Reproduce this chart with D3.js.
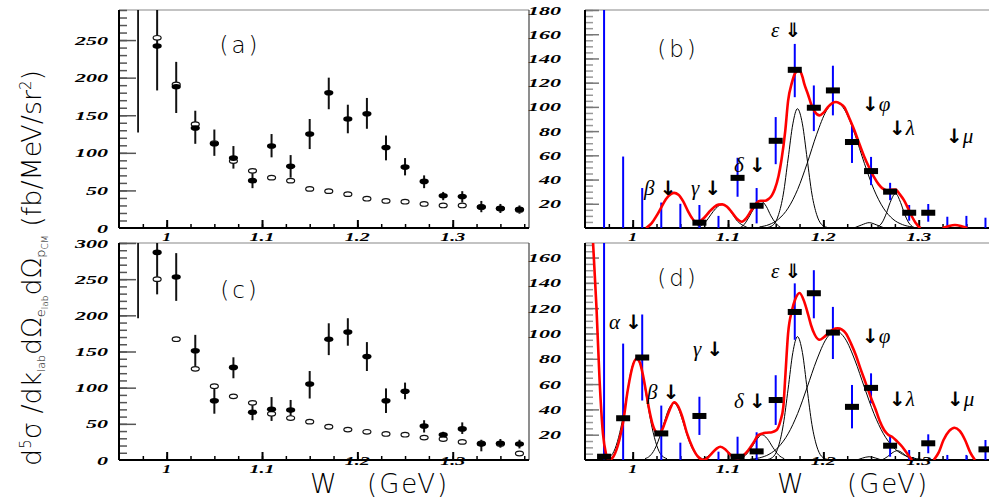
<!DOCTYPE html>
<html>
<head>
<meta charset="utf-8">
<script src="https://cdn.jsdelivr.net/npm/d3@7"></script>
<style>
  body { margin: 0; background: #fff; }
  .lbl { font-family: "Liberation Serif", serif; font-weight: bold; font-style: italic; fill: #000; }
  .big { font-family: "DejaVu Sans", sans-serif; font-weight: 200; fill: #000; }
  .greek { font-family: "Liberation Serif", serif; font-style: italic; font-size: 21px; }
</style>
</head>
<body>
<script>
// ---- data ----
// W bins (GeV)
var wBins = [0.99, 1.01, 1.03, 1.05, 1.07, 1.09, 1.11, 1.13, 1.15, 1.17, 1.19, 1.21, 1.23, 1.25, 1.27, 1.29, 1.31, 1.33, 1.35, 1.37];

// panel (a): filled = data, open = other set
var aVal  = [242, 188, 133, 112, 93, 63, 109, 82, 125, 180, 145, 152, 107, 81, 62, 43, 42, 28, 26, 25];
var aLo   = [183, 153, 112, 96, 79, 53, 94, 67, 105, 158, 126, 132, 90, 70, 53, 37, 34, 21, 20, 19];
var aHi   = [320, 221, 156, 131, 109, 74, 125, 97, 145, 200, 164, 173, 123, 93, 70, 48, 49, 36, 32, 30];
var aOpen = [253, 191, 138, 113, 89, 76, 67, 63, 52, 49, 45, 39, 36, 35, 32, 30, 30, 28, 26, 24];
var aOffW = 0.97, aOffLo = 127, aOffHi = 400;

// panel (c)
var cVal  = [287, 253, 151, 82, 128, 66, 70, 69, 105, 167, 177, 143, 82, 95, 47, 35, 43, 22, 23, 22];
var cLo   = [229, 220, 130, 64, 113, 55, 54, 55, 85, 145, 158, 123, 65, 84, 38, 28, 36, 12, 17, 16];
var cHi   = [320, 286, 173, 101, 142, 76, 87, 83, 123, 189, 196, 163, 99, 107, 55, 39, 52, 28, 29, 28];
var cOpen = [250, 167, 126, 102, 88, 79, 64, 58, 53, 46, 42, 39, 36, 35, 31, 29, 25, 23, 22, 9];
var cOffW = 0.97, cOffLo = 196, cOffHi = 400;

// panels (b), (d): W bins start one bin lower
var wFit = [0.97, 0.99, 1.01, 1.03, 1.05, 1.07, 1.09, 1.11, 1.13, 1.15, 1.17, 1.19, 1.21, 1.23, 1.25, 1.27, 1.29, 1.31, 1.33, 1.35, 1.37];

var bVal = [null, null, null, null, null, 4.4, null, 41.4, 18.4, 72, 130.6, 99.3, 113.6, 71, 47, 30, 12.6, 12.6, null, null, null];
var bLo  = [-50, -10, -10, -10, -10, -10, -10, 25.8, 3.8, 52.7, 108, 80, 93, 53.7, 35.4, 23, 6, 5.2, -10, -10, -10];
var bHi  = [300, 59, 33, 21, 20, 19, 10, 58, 33, 91.6, 152, 117.7, 134, 86, 58.7, 37.3, 19, 19.8, 9.3, 10, 8.5];

var dVal = [2.6, 33, 81, 21, null, 34.8, null, 2.6, 6.8, 47.4, 117, 131.8, 100.7, 42, 57, 11.3, null, 13.2, null, null, 8.4];
var dLo  = [-50, -10, 47, -10, -10, 19.8, -10, -10, -10, 27.7, 95, 112, 79.8, 25, 44.8, 2.6, -10, 5.3, -10, -10, -10];
var dHi  = [300, 92, 115, 43, 13.7, 50, 6.6, 18.4, 21.9, 67, 139.6, 150, 121, 59.3, 68.5, 19, 7.9, 20.3, 4, 4, 15.8];

// total fit (red), [W, value]; null breaks the line
var bTotal = [[1.014,0],[1.02,4],[1.025,10],[1.03,17],[1.035,24],[1.04,28],[1.0434,29],[1.048,27.5],[1.053,22],
  [1.058,14],[1.062,8.5],[1.066,5.2],[1.07,5.5],[1.075,8.5],[1.08,13],[1.085,17],[1.09,19.3],[1.094,19.5],
  [1.099,17.5],[1.104,13],[1.109,8],[1.1145,5.2],[1.119,8],[1.124,14],[1.129,20],[1.134,22.5],[1.139,22.5],
  [1.142,23.6],[1.146,27],[1.149,32],[1.153,43],[1.156,56],[1.16,80],[1.163,105],[1.167,120],[1.1705,128],
  [1.1745,130.6],[1.178,125],[1.18,119],[1.184,110],[1.187,102.6],[1.191,96],[1.196,93],[1.2005,95.5],
  [1.2047,99.8],[1.209,103],[1.2133,104],[1.218,102.5],[1.222,99.8],[1.227,91],[1.2325,80.7],[1.238,69],
  [1.243,58.7],[1.248,50],[1.253,42.2],[1.258,36],[1.262,32.7],[1.267,31],[1.271,31.5],[1.2757,31.8],
  [1.28,28],[1.2845,23],[1.289,16],[1.293,9.3],[1.297,4],[1.3,1],[1.302,0],[1.31,null],
  [1.325,0],[1.331,1.5],[1.338,2.5],[1.345,1.5],[1.351,0]];

var dTotal = [[0.957,190],[0.9585,171],[0.962,121],[0.9653,63],[0.9688,21],[0.972,5],[0.975,0],[0.98,3],
  [0.986,15.8],[0.99,30],[0.9948,55],[1.0007,76],[1.004,80],[1.0075,77],[1.0104,68.5],[1.014,54],[1.0174,39.5],
  [1.021,28],[1.0243,22.4],[1.0278,21],[1.031,24],[1.0348,31.6],[1.039,40],[1.0434,45.6],[1.048,42],[1.052,34.2],
  [1.057,21],[1.0624,10.5],[1.068,3],[1.0746,0],[1.079,2],[1.083,5.3],[1.088,9],[1.092,10.5],[1.097,8.5],
  [1.102,4.5],[1.106,2],[1.111,1.3],[1.116,3.5],[1.1214,7.9],[1.127,14],[1.132,19.8],[1.1405,21.6],[1.146,22],
  [1.151,23.7],[1.155,31],[1.158,42],[1.16,65],[1.163,100],[1.167,118],[1.1705,127],[1.175,132],[1.18,125],
  [1.184,115],[1.187,106.7],[1.191,99],[1.196,95],[1.2005,97],[1.205,100],[1.21,103],[1.215,104],[1.2195,103],
  [1.2237,100],[1.229,92],[1.234,83],[1.239,72],[1.2445,60.6],[1.25,49],[1.255,39.5],[1.259,31],[1.2637,23.7],
  [1.268,20],[1.272,18.4],[1.277,15],[1.2827,10.5],[1.288,5],[1.293,0],[1.3,null],
  [1.3157,0],[1.321,6],[1.326,15.8],[1.332,23],[1.3376,25.5],[1.343,23],[1.3486,15.8],[1.354,6],[1.359,0]];

// fit components (black)
var bComp = [
  [[1.015,0],[1.02,4],[1.025,10],[1.03,17],[1.035,24],[1.04,28],[1.0434,29],[1.048,27.5],[1.053,22],[1.058,14],[1.063,7],[1.068,2.5],[1.073,0]],
  [[1.066,0],[1.072,2],[1.077,5.5],[1.082,11],[1.087,16],[1.094,19.5],[1.1,16.5],[1.105,11],[1.11,5.5],[1.115,2.5],[1.12,0.5],[1.123,0]],
  [[1.112,0],[1.117,3],[1.122,9],[1.127,16],[1.134,22.5],[1.14,18],[1.145,10],[1.15,4],[1.156,0]],
  [[1.142,0.5],[1.148,3],[1.153,11],[1.158,28],[1.163,57],[1.168,86],[1.1728,98.5],[1.178,86],[1.183,57],[1.188,28],[1.193,11],[1.198,3],[1.204,0.5]],
  [[1.133,0.9],[1.143,2.8],[1.153,7.3],[1.163,16.4],[1.173,31.8],[1.183,53.4],[1.193,77.4],[1.203,96.6],[1.213,104],[1.223,96.6],[1.233,77.4],[1.243,53.4],[1.253,31.8],[1.263,16.4],[1.273,7.3],[1.283,2.8],[1.293,0.9]],
  [[1.232,0],[1.24,2.5],[1.248,4.4],[1.256,2.5],[1.264,0]],
  [[1.256,0.5],[1.262,5],[1.266,12],[1.27,21],[1.2757,28.5],[1.281,21],[1.285,12],[1.289,5],[1.295,0.5]]
];
var dComp = [
  [[0.972,1],[0.979,5],[0.984,14.5],[0.989,30.5],[0.994,52],[0.999,72.6],[1.004,80],[1.009,72.6],[1.014,52],[1.019,30.5],[1.024,14.5],[1.029,5],[1.036,1]],
  [[1.013,1.1],[1.018,3.2],[1.023,8.4],[1.028,17.5],[1.033,29.6],[1.038,40.5],[1.0434,45],[1.048,40.5],[1.053,29.6],[1.058,17.5],[1.063,8.4],[1.068,3.2],[1.073,1.1]],
  [[1.073,0.5],[1.078,2.5],[1.083,5.5],[1.087,8.5],[1.092,10.5],[1.097,8.5],[1.101,5.5],[1.106,2.5],[1.111,0.5]],
  [[1.112,0.5],[1.118,3.5],[1.124,9],[1.13,16],[1.1355,20],[1.141,17],[1.147,10],[1.153,4],[1.159,1]],
  [[1.142,0.5],[1.148,3],[1.153,11],[1.158,28],[1.163,56],[1.168,85],[1.1728,97.5],[1.178,85],[1.183,56],[1.188,28],[1.193,11],[1.198,3],[1.204,0.5]],
  [[1.123,0.6],[1.133,1.7],[1.143,4.5],[1.153,10.3],[1.163,20.7],[1.173,36.7],[1.183,57.5],[1.193,79],[1.203,95.7],[1.213,102],[1.223,95.7],[1.233,79],[1.243,57.5],[1.253,36.7],[1.263,20.7],[1.273,10.3],[1.283,4.5],[1.293,1.7],[1.303,0.6]],
  [[1.235,0],[1.241,1.5],[1.248,2.6],[1.255,1.5],[1.261,0]],
  [[1.262,0.3],[1.267,2.5],[1.272,5.5],[1.2775,7.4],[1.283,5.5],[1.288,2.5],[1.293,0.3]]
];

// resonance markers: [greek before, arrow(+greek after), x, y centre]
var bMarks = [["β","↓",644,188],["γ","↓",691,188],["δ","↓",734,165],["ε","⇓",771,30],["","↓φ",862,104],["","↓λ",889,128],["","↓μ",946,136]];
var dMarks = [["α","↓",609,322],["β","↓",647,392],["γ","↓",693,349],["δ","↓",734,401],["ε","⇓",771,271],["","↓φ",862,336],["","↓λ",889,399],["","↓μ",947,399]];

var xMajor = [1, 1.1, 1.2, 1.3];

// ---- drawing ----
var width = 989, height = 498;
var svg = d3.select("body").append("svg")
    .attr("width", width)
    .attr("height", height);

// stretched bold-italic number labels like the original
function numLen(s) {
  var n = 0;
  for (var i = 0; i < s.length; i++) n += (s[i] == ".") ? 5 : 11;
  return n;
}

function axes(g, x, y, cfg) {
  var x0 = x.range()[0], x1 = x.range()[1], y0 = y.range()[0], y1 = y.range()[1];
  // frame
  g.append("line").attr("x1", x0).attr("x2", x1).attr("y1", y1).attr("y2", y1)
    .attr("stroke", "#888").attr("stroke-width", 1.2);
  if (cfg.rightFrame)
    g.append("line").attr("x1", x1).attr("x2", x1).attr("y1", y1).attr("y2", y0)
      .attr("stroke", "#444").attr("stroke-width", 1.2);

  // x ticks (inside)
  var minorX = d3.range(0.975, 1.38, 0.025);
  g.append("g").attr("transform", "translate(0," + y0 + ")")
    .call(d3.axisBottom(x).tickValues(minorX).tickSizeInner(-4).tickSizeOuter(0).tickFormat(""))
    .call(function(s) { s.select(".domain").remove(); s.selectAll("line").attr("stroke-width", 1.5); });
  g.append("g").attr("transform", "translate(0," + y0 + ")")
    .call(d3.axisBottom(x).tickValues(xMajor).tickSizeInner(-8).tickSizeOuter(0).tickFormat(""))
    .call(function(s) { s.select(".domain").remove(); s.selectAll("line").attr("stroke-width", 2); });
  g.append("line").attr("x1", x0).attr("x2", x1).attr("y1", y0).attr("y2", y0)
    .attr("stroke", "#000").attr("stroke-width", 2);

  // y ticks (inside)
  g.append("g").attr("transform", "translate(" + x0 + ",0)")
    .call(d3.axisLeft(y).tickValues(d3.range(cfg.yMinor, y.domain()[1] + 0.1, cfg.yMinor))
      .tickSizeInner(-cfg.minorLen).tickSizeOuter(0).tickFormat(""))
    .call(function(s) { s.select(".domain").remove(); s.selectAll("line").attr("stroke", cfg.tickColor).attr("stroke-width", 1.5); });
  g.append("g").attr("transform", "translate(" + x0 + ",0)")
    .call(d3.axisLeft(y).tickValues(d3.range(cfg.yMajor, y.domain()[1] + 0.1, cfg.yMajor))
      .tickSizeInner(-cfg.majorLen).tickSizeOuter(0).tickFormat(""))
    .call(function(s) { s.select(".domain").remove(); s.selectAll("line").attr("stroke", cfg.majorColor).attr("stroke-width", 1.5); });
  g.append("line").attr("x1", x0).attr("x2", x0).attr("y1", y1).attr("y2", y0)
    .attr("stroke", "#000").attr("stroke-width", 2);

  // tick labels
  g.selectAll(".ylab").data(cfg.yLabels).enter().append("text")
    .attr("class", "lbl")
    .attr("x", cfg.yLabelRight)
    .attr("y", function(d) { return y(d) + 4.5; })
    .attr("text-anchor", "end")
    .attr("font-size", 13)
    .attr("textLength", function(d) { return numLen(String(d)); })
    .attr("lengthAdjust", "spacingAndGlyphs")
    .text(function(d) { return d; });

  // in the lower row 1.2 and 1.3 sit raised above the "(GeV)" title
  g.selectAll(".xlab").data(xMajor).enter().append("text")
    .attr("class", "lbl")
    .attr("x", function(d) { return x(d); })
    .attr("y", function(d) { return cfg.xLabelY - (cfg.raise && d >= 1.2 ? 8 : 0); })
    .attr("text-anchor", "middle")
    .attr("font-size", 13)
    .attr("textLength", function(d) { return numLen(d == 1 ? "1" : d.toFixed(1)) - 2; })
    .attr("lengthAdjust", "spacingAndGlyphs")
    .text(function(d) { return d == 1 ? "1" : d.toFixed(1); });
}

function clipFor(id, x, y) {
  svg.append("clipPath").attr("id", id).append("rect")
    .attr("x", x.range()[0]).attr("y", y.range()[1])
    .attr("width", x.range()[1] - x.range()[0])
    .attr("height", y.range()[0] - y.range()[1]);
}

// data panels (a) and (c)
function dataPanel(id, yTop, yBot, yMax, yLabels, val, lo, hi, open, offW, offLo, offHi, name, nameY) {
  var x = d3.scaleLinear().domain([0.95, 1.38]).range([119, 529]);
  var y = d3.scaleLinear().domain([0, yMax]).range([yBot, yTop]);
  var g = svg.append("g");
  clipFor(id, x, y);
  axes(g, x, y, { rightFrame: true, yMinor: 10, yMajor: 50, minorLen: 8, majorLen: 17,
    tickColor: "#555", majorColor: "#555", yLabels: yLabels, yLabelRight: 108,
    xLabelY: yBot + 13, raise: id == "clipC" });

  var p = g.append("g").attr("clip-path", "url(#" + id + ")");
  // off-scale point, only its error bar is seen
  p.append("line").attr("x1", x(offW)).attr("x2", x(offW)).attr("y1", y(offLo)).attr("y2", y(offHi))
    .attr("stroke", "#111").attr("stroke-width", 1.8);
  p.selectAll(".eb").data(wBins).enter().append("line")
    .attr("x1", function(d) { return x(d); }).attr("x2", function(d) { return x(d); })
    .attr("y1", function(d, i) { return y(lo[i]); }).attr("y2", function(d, i) { return y(hi[i]); })
    .attr("stroke", "#111").attr("stroke-width", 2);
  p.selectAll(".op").data(wBins).enter().append("ellipse")
    .attr("cx", function(d) { return x(d); }).attr("cy", function(d, i) { return y(open[i]); })
    .attr("rx", 4).attr("ry", 2.3)
    .attr("fill", "#fff").attr("stroke", "#111").attr("stroke-width", 1.2);
  p.selectAll(".fl").data(wBins).enter().append("ellipse")
    .attr("cx", function(d) { return x(d); }).attr("cy", function(d, i) { return y(val[i]); })
    .attr("rx", 4.6).attr("ry", 2.8)
    .attr("fill", "#000");

  g.append("text").attr("class", "big").attr("x", 240).attr("y", nameY)
    .attr("text-anchor", "middle").attr("font-size", 23).attr("letter-spacing", 3).text(name);
}

// fit panels (b) and (d)
function fitPanel(id, yTop, yBot, yMax, yLabels, val, lo, hi, total, comps, marks, name, nameY) {
  var x = d3.scaleLinear().domain([0.95, 1.38]).range([585, 995]);
  var y = d3.scaleLinear().domain([0, yMax]).range([yBot, yTop]);
  var g = svg.append("g");
  clipFor(id, x, y);
  axes(g, x, y, { rightFrame: false, yMinor: 5, yMajor: 20, minorLen: 8, majorLen: 14,
    tickColor: "#999", majorColor: "#777", yLabels: yLabels, yLabelRight: 561,
    xLabelY: yBot + 13, raise: id == "clipD" });

  var p = g.append("g").attr("clip-path", "url(#" + id + ")");
  var line = d3.line()
    .defined(function(d) { return d[1] != null; })
    .x(function(d) { return x(d[0]); })
    .y(function(d) { return y(d[1]); })
    .curve(d3.curveMonotoneX);

  p.selectAll(".comp").data(comps).enter().append("path")
    .attr("d", line).attr("fill", "none").attr("stroke", "#000").attr("stroke-width", 1);
  p.selectAll(".eb").data(wFit).enter().append("line")
    .attr("x1", function(d) { return x(d); }).attr("x2", function(d) { return x(d); })
    .attr("y1", function(d, i) { return y(lo[i]); }).attr("y2", function(d, i) { return y(hi[i]); })
    .attr("stroke", "#0000ff").attr("stroke-width", 2);
  p.append("path").attr("d", line(total)).attr("fill", "none")
    .attr("stroke", "#ff0000").attr("stroke-width", 2.6);
  p.selectAll(".pt").data(wFit.filter(function(d, i) { return val[i] != null; })).enter().append("rect")
    .attr("x", function(d) { return x(d) - 7; })
    .attr("y", function(d) { return y(val[wFit.indexOf(d)]) - 3; })
    .attr("width", 14).attr("height", 6).attr("fill", "#000");

  marks.forEach(function(m) {
    var t = g.append("text").attr("class", "greek").attr("x", m[2]).attr("y", m[3] + 7);
    if (m[0]) t.append("tspan").text(m[0] + " ");
    t.append("tspan").attr("font-style", "normal").attr("font-weight", "bold")
      .attr("font-family", "DejaVu Sans").attr("font-size", 20).text(m[1].charAt(0));
    if (m[1].length > 1) t.append("tspan").text(m[1].slice(1));
  });

  g.append("text").attr("class", "big").attr("x", 678).attr("y", nameY)
    .attr("text-anchor", "middle").attr("font-size", 23).attr("letter-spacing", 3).text(name);
}

dataPanel("clipA", 10, 228, 290, [0, 50, 100, 150, 200, 250], aVal, aLo, aHi, aOpen, aOffW, aOffLo, aOffHi, "(a)", 53);
dataPanel("clipC", 243, 460, 300, [0, 50, 100, 150, 200, 250, 300], cVal, cLo, cHi, cOpen, cOffW, cOffLo, cOffHi, "(c)", 298);
fitPanel("clipB", 10, 228, 180, [20, 40, 60, 80, 100, 120, 140, 160, 180], bVal, bLo, bHi, bTotal, bComp, bMarks, "(b)", 57);
fitPanel("clipD", 243, 460, 171.5, [20, 40, 60, 80, 100, 120, 140, 160], dVal, dLo, dHi, dTotal, dComp, dMarks, "(d)", 286);

// axis titles
[[310, 367], [777, 847]].forEach(function(p) {
  svg.append("text").attr("class", "big").attr("x", p[0]).attr("y", 493).attr("font-size", 27).text("W");
  svg.append("text").attr("class", "big").attr("x", p[1]).attr("y", 493).attr("font-size", 26)
    .attr("letter-spacing", 2).text("(GeV)");
});

var yt = svg.append("text").attr("class", "big")
  .attr("transform", "translate(41,466) rotate(-90)")
  .attr("font-size", 27);
yt.append("tspan").text("d");
yt.append("tspan").attr("dy", -10).attr("font-size", 15).text("5");
yt.append("tspan").attr("dy", 10).text("σ /dk");
yt.append("tspan").attr("dy", 4).attr("font-size", 11).text("lab");
yt.append("tspan").attr("dy", -4).text("dΩ");
yt.append("tspan").attr("dy", 4).attr("font-size", 13).text("e");
yt.append("tspan").attr("dy", 3).attr("font-size", 9).text("lab");
yt.append("tspan").attr("dy", -7).text("dΩ");
yt.append("tspan").attr("dy", 4).attr("font-size", 13).text("p");
yt.append("tspan").attr("dy", 3).attr("font-size", 9).text("CM");
yt.append("tspan").attr("dy", -7).text(" (fb/MeV/sr");
yt.append("tspan").attr("dy", -10).attr("font-size", 15).text("2");
yt.append("tspan").attr("dy", 10).text(")");
</script>
</body>
</html>
